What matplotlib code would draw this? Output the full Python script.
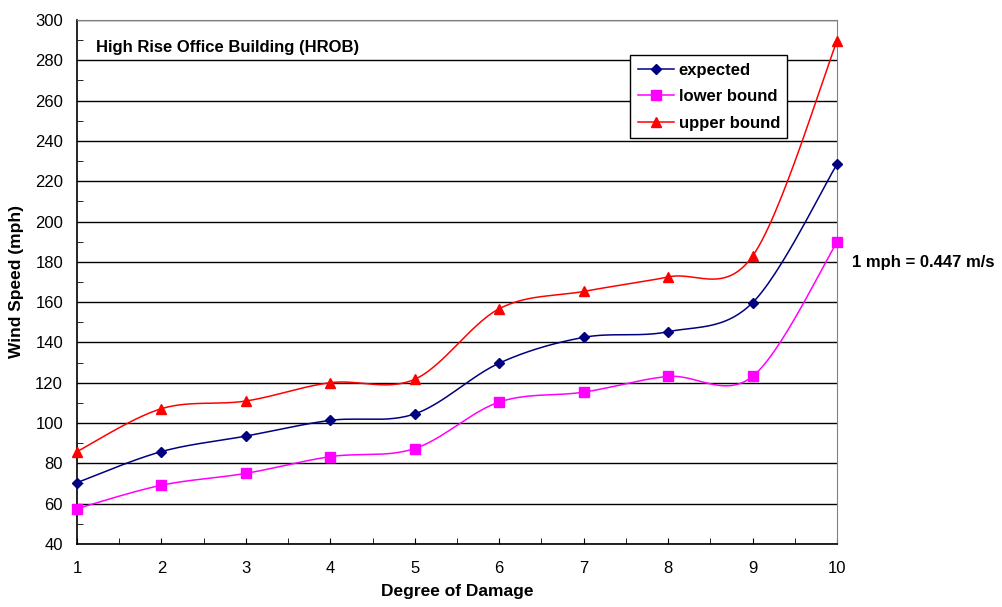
import numpy as np
import matplotlib.pyplot as plt
from matplotlib.ticker import MultipleLocator

plt.rcParams['font.family'] = ['Liberation Sans', 'DejaVu Sans']

damage = [1, 2, 3, 4, 5, 6, 7, 8, 9, 10]
expected = [70.4, 85.8, 93.5, 101.3, 104.5, 129.7, 142.5, 145.3, 159.7, 228.4]
lower = [57.5, 69.1, 75.0, 83.3, 87.3, 110.4, 115.3, 123.1, 123.1, 189.7]
upper = [85.8, 107.1, 110.9, 120.0, 121.7, 156.7, 165.3, 172.5, 182.8, 289.6]


# excel style smoothed line (bezier through the points)
def smooth(xs, ys, n=30):
    p = np.column_stack([xs, ys]).astype(float)
    out = [p[0]]
    for i in range(len(p) - 1):
        p0 = p[i - 1] if i > 0 else p[i]
        p3 = p[i + 2] if i + 2 < len(p) else p[i + 1]
        c1 = p[i] + (p[i + 1] - p0) / 6
        c2 = p[i + 1] - (p3 - p[i]) / 6
        t = np.linspace(0, 1, n)[1:, None]
        seg = ((1 - t) ** 3 * p[i] + 3 * (1 - t) ** 2 * t * c1
               + 3 * (1 - t) * t ** 2 * c2 + t ** 3 * p[i + 1])
        out.extend(seg)
    out = np.array(out)
    return out[:, 0], out[:, 1]


fig = plt.figure(figsize=(10.02, 6.07), dpi=100)
ax = fig.add_axes([0.0768, 0.104, 0.7585, 0.863])

series = [
    (expected, '#000080', 'D', 5, 'expected'),
    (lower, '#FF00FF', 's', 7, 'lower bound'),
    (upper, '#FF0000', '^', 7, 'upper bound'),
]
for ys, col, mk, ms, lab in series:
    sx, sy = smooth(damage, ys)
    ax.plot(sx, sy, color=col, lw=1.1, zorder=3)
    ax.plot(damage, ys, linestyle='none', marker=mk, ms=ms, color=col, zorder=4, clip_on=False)
    ax.plot([], [], color=col, lw=1.1, marker=mk, ms=ms, label=lab)

ax.set_xlim(1, 10)
ax.set_ylim(40, 300)
ax.yaxis.set_major_locator(MultipleLocator(20))
ax.yaxis.set_minor_locator(MultipleLocator(10))
ax.xaxis.set_major_locator(MultipleLocator(1))
ax.xaxis.set_minor_locator(MultipleLocator(0.5))
ax.grid(axis='y', which='major', color='black', lw=1)
ax.set_axisbelow(True)

ax.tick_params(axis='both', which='both', direction='in', labelsize=12)
ax.tick_params(axis='y', which='major', length=0, pad=10)
ax.tick_params(axis='y', which='minor', length=4)
ax.tick_params(axis='x', which='both', length=4, pad=12)

for side in ['top', 'right']:
    ax.spines[side].set_color('#808080')
for side in ['left', 'bottom']:
    ax.spines[side].set_color('black')
    ax.spines[side].set_linewidth(1.2)

ax.set_xlabel('Degree of Damage', fontsize=12.5, fontweight='bold', labelpad=6)
ax.set_ylabel('Wind Speed (mph)', fontsize=12.5, fontweight='bold', labelpad=8)

ax.text(0.025, 0.962, 'High Rise Office Building (HROB)', transform=ax.transAxes,
        fontsize=12, fontweight='bold', va='top', ha='left')
fig.text(0.850, 0.568, '1 mph = 0.447 m/s', fontsize=12, fontweight='bold',
         va='center', ha='left')

leg = ax.legend(loc='upper left', bbox_to_anchor=(0.728, 0.933), frameon=True,
                fancybox=False, edgecolor='black', framealpha=1,
                prop={'weight': 'bold', 'size': 12}, handlelength=2.2,
                handletextpad=0.25, borderpad=0.45, labelspacing=0.7,
                borderaxespad=0)
leg.get_frame().set_linewidth(1.0)

fig.savefig('out.png', dpi=100)
